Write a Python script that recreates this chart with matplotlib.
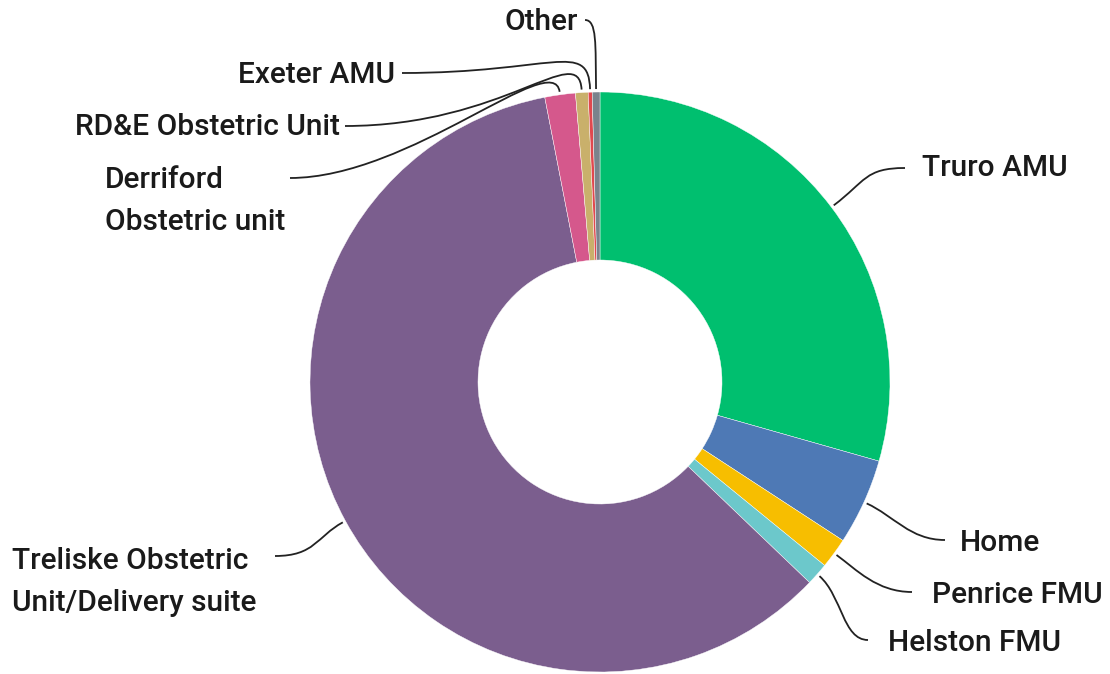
import matplotlib.pyplot as plt
import numpy as np
from matplotlib.path import Path
from matplotlib.patches import PathPatch

# share of births by place (percent)
places = ["Truro AMU", "Home", "Penrice FMU", "Helston FMU",
          "Treliske Obstetric\nUnit/Delivery suite", "Derriford\nObstetric unit",
          "RD&E Obstetric Unit", "Exeter AMU", "Other"]
shares = [29.4, 4.8, 1.7, 1.25, 59.8, 1.7, 0.7, 0.22, 0.43]
colors = ["#00BF6F", "#4E79B5", "#F7BE00", "#6CC8CB", "#7B5E8E",
          "#D5588C", "#C9B06B", "#E0484E", "#7A838C"]

# label layout in pixel coords (y from top): text pos, alignment, line end, control lengths
label_pos = [(922, 168, "left"), (960, 543, "left"), (932, 595, "left"), (888, 643, "left"),
             (12, 582, "left"), (105, 201, "left"), (340, 127, "right"),
             (395, 75, "right"), (578, 22, "right")]
line_end = [(905, 168), (945, 540), (912, 592), (868, 640),
            (275, 556), (290, 178), (345, 126), (402, 73), (585, 20)]
ctrl = [(40, 40), (30, 35), (25, 35), (30, 25),
        (30, 40), (45, 120), (50, 160), (50, 150), (45, 12)]

W, H = 1110, 674
cx, cy, R = 600, 382, 290

fig = plt.figure(figsize=(W / 100, H / 100), dpi=100)
ax = fig.add_axes([0, 0, 1, 1])

wedges, _ = ax.pie(shares, colors=colors, startangle=90, counterclock=False,
                   center=(cx, H - cy), radius=R, frame=True,
                   wedgeprops=dict(width=R - 122, linewidth=0.3, edgecolor="white"))
ax.set_xlim(0, W)
ax.set_ylim(0, H)
ax.set_aspect("equal")
ax.axis("off")

for w, name, (tx, ty, ha), (ex, ey), (d0, d1) in zip(wedges, places, label_pos, line_end, ctrl):
    ang = np.deg2rad((w.theta1 + w.theta2) / 2)
    ux, uy = np.cos(ang), np.sin(ang)
    p0 = (cx + (R + 3) * ux, H - cy + (R + 3) * uy)
    p1 = (p0[0] + d0 * ux, p0[1] + d0 * uy)
    p3 = (ex, H - ey)
    if ha == "left":
        p2 = (p3[0] - d1 if ex > cx else p3[0] + d1, p3[1])
    else:
        p2 = (p3[0] + d1, p3[1])
    path = Path([p0, p1, p2, p3], [Path.MOVETO, Path.CURVE4, Path.CURVE4, Path.CURVE4])
    ax.add_patch(PathPatch(path, fill=False, color="#222222", lw=1.3))
    ax.text(tx, H - ty, name, ha=ha, va="center", fontsize=21.5, family="Roboto",
            fontweight="medium", color="#1a1a1a", linespacing=1.65)

plt.savefig("out.png", dpi=100)
